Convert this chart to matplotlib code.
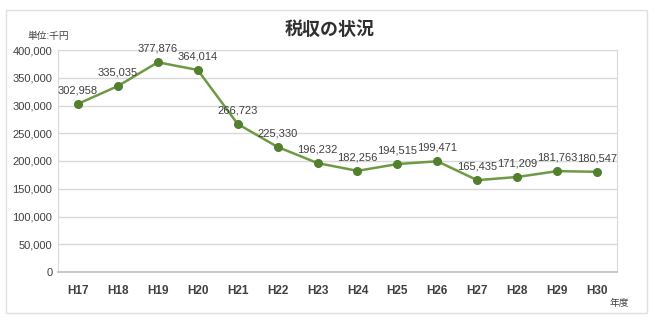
import matplotlib.pyplot as plt
from matplotlib.patches import Rectangle

plt.rcParams['font.family'] = ['Liberation Sans', 'Noto Sans CJK JP', 'DejaVu Sans']

years = ['H17', 'H18', 'H19', 'H20', 'H21', 'H22', 'H23',
         'H24', 'H25', 'H26', 'H27', 'H28', 'H29', 'H30']
tax = [302958, 335035, 377876, 364014, 266723, 225330, 196232,
       182256, 194515, 199471, 165435, 171209, 181763, 180547]

fig = plt.figure(figsize=(6.55, 3.2), dpi=100)
fig.patches.append(Rectangle((6 / 655, 7 / 320), 641 / 655, 303 / 320,
                             transform=fig.transFigure, fill=False,
                             edgecolor='#e0e0e0', linewidth=1))

ax = fig.add_axes([58 / 655, 48 / 320, 559 / 655, 222 / 320])
x = range(len(years))
ax.plot(x, tax, color='#6e9a44', linewidth=1.8, marker='o', markersize=5.5,
        markerfacecolor='#52802f', markeredgecolor='#52802f', zorder=3)

for i, v in enumerate(tax):
    ax.annotate(f'{v:,}', (i, v), xytext=(0, 6), textcoords='offset points',
                ha='center', va='bottom', fontsize=8, color='#404040')

ax.set_xlim(-0.5, len(years) - 0.5)
ax.set_ylim(0, 400000)
ax.set_yticks(range(0, 400001, 50000))
ax.set_yticklabels([f'{v:,}' for v in range(0, 400001, 50000)])
ax.set_xticks(list(x))
ax.set_xticklabels(years, fontweight='bold')
ax.tick_params(axis='y', length=0, labelsize=8, labelcolor='#404040', pad=4)
ax.tick_params(axis='x', length=0, labelsize=8.5, labelcolor='#404040', pad=9)
ax.grid(axis='y', color='#d9d9d9', linewidth=1)
ax.set_axisbelow(True)
for s in ax.spines.values():
    s.set_color('#d9d9d9')
ax.spines['bottom'].set_color('#bfbfbf')
ax.spines['bottom'].set_linewidth(1.2)

fig.text(330 / 655, 1 - 30 / 320, '税収の状況', ha='center', va='center',
         fontsize=13, fontweight='bold', color='#303030')
fig.text(27 / 655, 1 - 36 / 320, '単位:千円', ha='left', va='center',
         fontsize=7, color='#404040')
fig.text(610 / 655, 1 - 303 / 320, '年度', ha='left', va='center',
         fontsize=7, color='#404040')

fig.savefig('out.png', dpi=100)
